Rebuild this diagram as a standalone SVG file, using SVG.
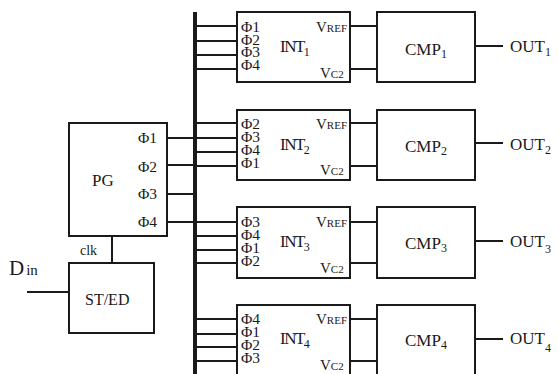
<svg xmlns="http://www.w3.org/2000/svg" width="559" height="374" viewBox="0 0 559 374">
<style>
.box{fill:#fff;stroke:#1a1a1a;stroke-width:2}
.w{stroke:#1a1a1a;stroke-width:2;fill:none}
.bus{stroke:#1a1a1a;stroke-width:4;fill:none}
text{font-family:"Liberation Serif","Times New Roman",serif;fill:#1a1a1a}
.ph{font-size:15.5px}
.lb{font-size:17px}
.int{font-size:17px;letter-spacing:-1.5px}
.sm{font-size:11px;letter-spacing:0}
.sub{font-size:12px;letter-spacing:0}
</style>
<rect width="559" height="374" fill="#fff"/>
<g id="connectors">
<line class="bus" x1="195" y1="12" x2="195" y2="374"/>
<line class="w" x1="167" y1="138" x2="195" y2="138"/>
<line class="w" x1="167" y1="165" x2="195" y2="165"/>
<line class="w" x1="167" y1="194" x2="195" y2="194"/>
<line class="w" x1="167" y1="222" x2="195" y2="222"/>
<line class="w" x1="112" y1="236" x2="112" y2="263"/>
<line class="w" x1="27" y1="292" x2="69" y2="292"/>
<line class="w" x1="195" y1="26" x2="237" y2="26"/>
<line class="w" x1="195" y1="41" x2="237" y2="41"/>
<line class="w" x1="195" y1="55" x2="237" y2="55"/>
<line class="w" x1="195" y1="69" x2="237" y2="69"/>
<line class="w" x1="195" y1="123" x2="237" y2="123"/>
<line class="w" x1="195" y1="138" x2="237" y2="138"/>
<line class="w" x1="195" y1="152" x2="237" y2="152"/>
<line class="w" x1="195" y1="166" x2="237" y2="166"/>
<line class="w" x1="195" y1="222" x2="237" y2="222"/>
<line class="w" x1="195" y1="236" x2="237" y2="236"/>
<line class="w" x1="195" y1="250" x2="237" y2="250"/>
<line class="w" x1="195" y1="263" x2="237" y2="263"/>
<line class="w" x1="195" y1="319" x2="237" y2="319"/>
<line class="w" x1="195" y1="334" x2="237" y2="334"/>
<line class="w" x1="195" y1="347" x2="237" y2="347"/>
<line class="w" x1="195" y1="361" x2="237" y2="361"/>
<line class="w" x1="350" y1="26" x2="377" y2="26"/>
<line class="w" x1="350" y1="69" x2="377" y2="69"/>
<line class="w" x1="350" y1="123" x2="377" y2="123"/>
<line class="w" x1="350" y1="166" x2="377" y2="166"/>
<line class="w" x1="350" y1="222" x2="377" y2="222"/>
<line class="w" x1="350" y1="263" x2="377" y2="263"/>
<line class="w" x1="350" y1="319" x2="377" y2="319"/>
<line class="w" x1="350" y1="361" x2="377" y2="361"/>
<line class="w" x1="475" y1="46" x2="503" y2="46"/>
<line class="w" x1="475" y1="143" x2="503" y2="143"/>
<line class="w" x1="475" y1="241" x2="503" y2="241"/>
<line class="w" x1="475" y1="339" x2="503" y2="339"/>
</g>
<g id="PG">
<rect class="box" x="69" y="123" width="98" height="113"/>
<text class="lb" x="92" y="186">PG</text>
<text class="ph" x="138" y="143">Φ1</text>
<text class="ph" x="138" y="172">Φ2</text>
<text class="ph" x="138" y="199">Φ3</text>
<text class="ph" x="138" y="227">Φ4</text>
</g>
<g id="STED">
<rect class="box" x="69" y="263" width="85" height="70"/>
<text x="85" y="305" font-size="16">ST/ED</text>
<text x="80" y="255" font-size="14">clk</text>
<text x="9" y="275" font-size="21">D<tspan font-size="15" dx="2">in</tspan></text>
</g>
<g id="INT1">
<rect class="box" x="237" y="12" width="113" height="70"/>
<text class="ph" x="241" y="32">Φ1</text>
<text class="ph" x="241" y="45">Φ2</text>
<text class="ph" x="241" y="57">Φ3</text>
<text class="ph" x="241" y="70">Φ4</text>
<text class="int" x="280" y="52">INT<tspan class="sub" dy="4">1</tspan></text>
<text x="316" y="32" font-size="15">V<tspan class="sm">REF</tspan></text>
<text x="320" y="78" font-size="15">V<tspan class="sm">C2</tspan></text>
</g>
<g id="INT2">
<rect class="box" x="237" y="110" width="113" height="70"/>
<text class="ph" x="241" y="129">Φ2</text>
<text class="ph" x="241" y="142">Φ3</text>
<text class="ph" x="241" y="155">Φ4</text>
<text class="ph" x="241" y="168">Φ1</text>
<text class="int" x="280" y="150">INT<tspan class="sub" dy="4">2</tspan></text>
<text x="316" y="129" font-size="15">V<tspan class="sm">REF</tspan></text>
<text x="320" y="175" font-size="15">V<tspan class="sm">C2</tspan></text>
</g>
<g id="INT3">
<rect class="box" x="237" y="207" width="113" height="71"/>
<text class="ph" x="241" y="227">Φ3</text>
<text class="ph" x="241" y="240">Φ4</text>
<text class="ph" x="241" y="253">Φ1</text>
<text class="ph" x="241" y="266">Φ2</text>
<text class="int" x="280" y="247">INT<tspan class="sub" dy="4">3</tspan></text>
<text x="316" y="227" font-size="15">V<tspan class="sm">REF</tspan></text>
<text x="320" y="273" font-size="15">V<tspan class="sm">C2</tspan></text>
</g>
<g id="INT4">
<rect class="box" x="237" y="305" width="113" height="72"/>
<text class="ph" x="241" y="324">Φ4</text>
<text class="ph" x="241" y="337">Φ1</text>
<text class="ph" x="241" y="350">Φ2</text>
<text class="ph" x="241" y="363">Φ3</text>
<text class="int" x="280" y="344">INT<tspan class="sub" dy="4">4</tspan></text>
<text x="316" y="324" font-size="15">V<tspan class="sm">REF</tspan></text>
<text x="320" y="370" font-size="15">V<tspan class="sm">C2</tspan></text>
</g>
<g id="CMP1">
<rect class="box" x="377" y="12" width="98" height="70"/>
<text class="lb" x="405" y="55">CMP<tspan class="sub" dy="3">1</tspan></text>
</g>
<g id="CMP2">
<rect class="box" x="377" y="110" width="98" height="70"/>
<text class="lb" x="405" y="152">CMP<tspan class="sub" dy="3">2</tspan></text>
</g>
<g id="CMP3">
<rect class="box" x="377" y="207" width="98" height="71"/>
<text class="lb" x="405" y="249">CMP<tspan class="sub" dy="3">3</tspan></text>
</g>
<g id="CMP4">
<rect class="box" x="377" y="305" width="98" height="72"/>
<text class="lb" x="405" y="346">CMP<tspan class="sub" dy="3">4</tspan></text>
</g>
<g id="OUT1"><text class="lb" x="510" y="52">OUT<tspan class="sub" dy="4">1</tspan></text></g>
<g id="OUT2"><text class="lb" x="510" y="150">OUT<tspan class="sub" dy="4">2</tspan></text></g>
<g id="OUT3"><text class="lb" x="510" y="247">OUT<tspan class="sub" dy="6">3</tspan></text></g>
<g id="OUT4"><text class="lb" x="510" y="344">OUT<tspan class="sub" dy="8">4</tspan></text></g>
</svg>
